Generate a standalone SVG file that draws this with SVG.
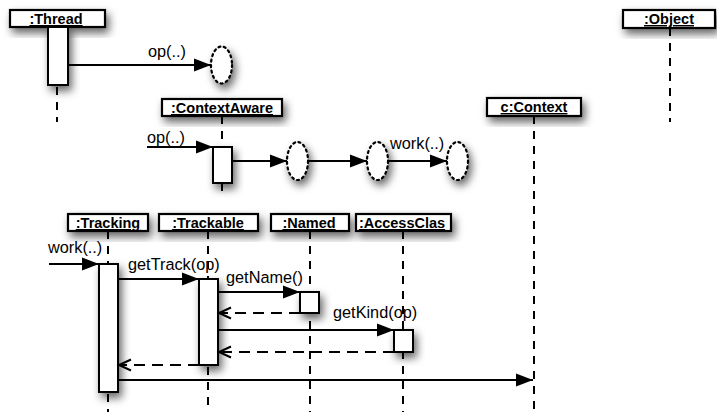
<svg xmlns="http://www.w3.org/2000/svg" width="717" height="412" viewBox="0 0 717 412">
  <style>
    .box { fill: #fff; stroke: #000; stroke-width: 2.2; filter: url(#sh); }
    .bar { fill: #fff; stroke: #000; stroke-width: 2; filter: url(#sh); }
    .obj { font-family: "Liberation Sans", Arial, sans-serif; font-weight: bold; font-size: 14.5px; text-anchor: middle; text-decoration: underline; fill: #000; }
    .lbl { font-family: "Liberation Sans", Arial, sans-serif; font-size: 16.3px; fill: #000; }
    .life { stroke: #000; stroke-width: 2; stroke-dasharray: 8 7; fill: none; }
    .msg { stroke: #000; stroke-width: 2; fill: none; marker-end: url(#solid); }
    .ret { stroke: #000; stroke-width: 2; stroke-dasharray: 11 7; fill: none; marker-end: url(#open); }
    .anon { fill: #fff; stroke: #000; stroke-width: 2.2; stroke-dasharray: 2 3.5; stroke-linecap: round; filter: url(#sh); }
  </style>
  <defs>
    <filter id="sh" x="-60%" y="-60%" width="220%" height="220%">
      <feDropShadow dx="3" dy="5" stdDeviation="4.5" flood-color="#000" flood-opacity="0.6"/>
    </filter>
    <marker id="solid" markerUnits="userSpaceOnUse" markerWidth="18" markerHeight="14" refX="17" refY="7" orient="auto">
      <path d="M0,0.5 L17,7 L0,13.5 Z" fill="#000"/>
    </marker>
    <marker id="open" markerUnits="userSpaceOnUse" markerWidth="16" markerHeight="14" refX="13" refY="7" orient="auto">
      <path d="M1,1.5 L13,7 L1,12.5" fill="none" stroke="#000" stroke-width="2"/>
    </marker>
  </defs>

  <!-- lifelines -->
  <g id="lifelines">
    <line class="life" x1="57" y1="87" x2="57" y2="122"/>
    <line class="life" x1="222" y1="116" x2="222" y2="147"/>
    <line class="life" x1="222" y1="183" x2="222" y2="196"/>
    <line class="life" x1="534" y1="116" x2="534" y2="412"/>
    <line class="life" x1="670" y1="28" x2="670" y2="122"/>
    <line class="life" x1="108" y1="231" x2="108" y2="264"/>
    <line class="life" x1="108" y1="394" x2="108" y2="412"/>
    <line class="life" x1="208" y1="231" x2="208" y2="279"/>
    <line class="life" x1="208" y1="367" x2="208" y2="412"/>
    <line class="life" x1="310" y1="231" x2="310" y2="412"/>
    <line class="life" x1="403" y1="231" x2="403" y2="412"/>
  </g>

  <!-- object heads and activations -->
  <g id="thread">
    <rect class="box" x="10" y="10" width="95" height="17"/>
    <text class="obj" x="56" y="24">:Thread</text>
    <rect class="bar" x="48" y="27" width="20" height="58"/>
  </g>
  <g id="anon1">
    <ellipse class="anon" cx="221.5" cy="65" rx="10.5" ry="18.5"/>
  </g>
  <g id="contextaware">
    <rect class="box" x="162" y="99" width="120" height="17"/>
    <text class="obj" x="222" y="113">:ContextAware</text>
    <rect class="bar" x="213" y="147" width="19" height="36"/>
  </g>
  <g id="anon2">
    <ellipse class="anon" cx="297.5" cy="161" rx="10.5" ry="19"/>
  </g>
  <g id="anon3">
    <ellipse class="anon" cx="377.5" cy="161" rx="10.5" ry="19"/>
  </g>
  <g id="anon4">
    <ellipse class="anon" cx="457.5" cy="161" rx="10.5" ry="19"/>
  </g>
  <g id="context">
    <rect class="box" x="487" y="98" width="94" height="18"/>
    <text class="obj" x="534" y="112">c:Context</text>
  </g>
  <g id="object">
    <rect class="box" x="623" y="10" width="92" height="18"/>
    <text class="obj" x="669" y="24">:Object</text>
  </g>
  <g id="tracking">
    <rect class="box" x="68" y="214" width="80" height="17"/>
    <text class="obj" x="108" y="228">:Tracking</text>
    <rect class="bar" x="99" y="264" width="19" height="128"/>
  </g>
  <g id="trackable">
    <rect class="box" x="159" y="214" width="99" height="17"/>
    <text class="obj" x="208" y="228">:Trackable</text>
    <rect class="bar" x="199" y="279" width="19" height="86"/>
  </g>
  <g id="named">
    <rect class="box" x="271" y="214" width="78" height="17"/>
    <text class="obj" x="309" y="228">:Named</text>
    <rect class="bar" x="300" y="292" width="19" height="21"/>
  </g>
  <g id="accessclas">
    <rect class="box" x="356" y="214" width="95" height="17"/>
    <text class="obj" x="402" y="228">:AccessClas</text>
    <rect class="bar" x="394" y="330" width="19" height="22"/>
  </g>

  <!-- messages -->
  <g id="connectors">
    <line class="msg" x1="68" y1="65" x2="211" y2="65"/>
    <line class="msg" x1="147" y1="147" x2="213" y2="147"/>
    <line class="msg" x1="232" y1="161" x2="287" y2="161"/>
    <line class="msg" x1="308" y1="161" x2="367" y2="161"/>
    <line class="msg" x1="388" y1="161" x2="447" y2="161"/>
    <line class="msg" x1="49" y1="264" x2="99" y2="264"/>
    <line class="msg" x1="118" y1="279" x2="199" y2="279"/>
    <line class="msg" x1="218" y1="292" x2="300" y2="292"/>
    <line class="ret" x1="300" y1="313" x2="219" y2="313"/>
    <line class="msg" x1="218" y1="330" x2="394" y2="330"/>
    <line class="ret" x1="394" y1="352" x2="219" y2="352"/>
    <line class="ret" x1="199" y1="365" x2="119" y2="365"/>
    <line class="msg" x1="118" y1="380" x2="533" y2="380"/>
  </g>

  <g id="labels">
    <text class="lbl" x="148" y="57">op(..)</text>
    <text class="lbl" x="147" y="143">op(..)</text>
    <text class="lbl" x="390" y="149">work(..)</text>
    <text class="lbl" x="48" y="253">work(..)</text>
    <text class="lbl" x="128" y="270">getTrack(op)</text>
    <text class="lbl" x="226" y="283">getName()</text>
    <text class="lbl" x="333" y="318">getKind(op)</text>
  </g>
</svg>
